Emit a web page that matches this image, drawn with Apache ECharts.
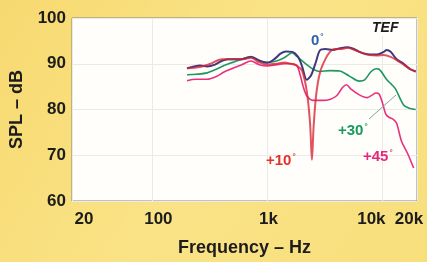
<!DOCTYPE html>
<html>
<head>
<meta charset="utf-8">
<script src="https://cdn.jsdelivr.net/npm/echarts@6/dist/echarts.min.js"></script>
<style>
html,body{margin:0;padding:0;background:#f8df7c;}
#c{width:427px;height:262px;}
</style>
</head>
<body>
<div id="c"></div>
<script>
// Frequency (Hz) and SPL (dB) per angle
var freq0 = [200,230,260,300,350,400,450,520,600,720,850,1000,1150,1300,1450,1650,1850,2000,2200,2400,2650,2860,3200,3700,4300,5000,5700,6300,7400,9000,10300,10900,11800,13300,15300,17500,19500];
var spl0  = [89.0,89.4,89.6,89.4,89.8,90.6,91.0,91.0,91.0,91.5,90.7,90.2,91.0,92.2,92.7,92.6,91.5,89.5,86.5,87.5,90.5,92.9,93.2,93.0,93.4,93.6,93.2,92.6,92.1,92.0,92.6,93.0,92.6,91.0,90.0,88.8,88.3];

var freq10 = [200,260,320,400,500,600,720,850,1000,1200,1400,1600,1800,2000,2200,2350,2440,2520,2650,2860,3160,3500,3850,4300,5000,5700,6300,7400,9000,10300,11800,13300,15300,17500,19500];
var spl10  = [89.0,89.3,90.0,91.0,91.0,91.0,91.3,90.3,89.8,90.0,90.3,90.0,89.6,88.5,84.0,77.0,69.0,76.0,83.0,88.0,90.8,92.6,93.2,93.2,93.5,93.0,92.6,92.0,91.8,91.9,91.5,90.8,89.8,88.8,88.3];

var freq30 = [200,240,300,360,420,500,600,720,850,1000,1200,1400,1640,1800,1930,2200,2500,2860,3500,4250,5170,6300,6960,7990,8820,9360,10940,12000,13000,15300,17500,19500];
var spl30  = [87.6,87.7,88.0,88.8,89.6,90.3,91.0,91.6,90.6,90.3,90.6,91.3,92.4,91.6,91.0,89.8,88.8,88.3,88.5,88.4,87.3,86.2,86.4,88.3,88.9,88.8,86.5,85.5,84.5,81.0,80.2,80.0];

var freq45 = [200,240,300,360,420,500,600,720,850,1000,1200,1400,1600,1800,1930,2050,2200,2490,3000,3490,4000,4500,4880,5300,6300,7400,8200,8820,9360,10000,10700,11400,12500,13300,14700,16500,18700];
var spl45  = [86.3,86.6,86.6,87.2,88.2,89.0,89.8,90.6,89.8,89.5,89.8,90.0,90.0,89.6,87.5,85.0,83.0,82.0,82.0,82.2,83.0,84.8,85.4,84.5,83.2,82.6,83.2,83.6,83.4,81.5,79.0,78.3,77.8,77.0,73.0,70.5,67.2];

var xTickLabels = {20:'20',100:'100',1000:'1k',10000:'10k',20000:'20k'};
var yTicks = [60,70,80,90,100];

function pairs(f, s){ return f.map(function(v,i){ return [v, s[i]]; }); }

var chart = echarts.init(document.getElementById('c'), null, {renderer:'canvas'});
var txt = '#1c1c1c';
var font = '"Liberation Sans", Arial, Helvetica, sans-serif';

function snap(v){
  var keys = [20,100,1000,10000,20000], best = keys[0];
  keys.forEach(function(k){ if (Math.abs(Math.log10(v)-Math.log10(k)) < Math.abs(Math.log10(v)-Math.log10(best))) best = k; });
  return best;
}
var shift = {20:'p20',100:'p100',1000:'p1k',10000:'p10k',20000:'p20k'};

function line(name, data, color, w, z){
  return {name:name, type:'line', data:data, smooth:0.3, showSymbol:false, symbol:'none',
    lineStyle:{color:color, width:w}, z:z, animation:false};
}

function lbl(x, y, t, c){
  return {type:'text', left:x, top:y, z:100,
    style:{text:'{a|' + t + '}{s|°}', rich:{a:{fill:c, font:'bold 15px '+font}, s:{fill:c, font:'bold 8px '+font, verticalAlign:'top', padding:[0,0,8,1]}}}};
}

chart.setOption({
  backgroundColor: {type:'linear', x:0, y:0, x2:1, y2:1, colorStops:[{offset:0,color:'#f7d970'},{offset:0.5,color:'#fae387'},{offset:1,color:'#f8df7c'}]},
  animation:false,
  grid:{left:68, right:10, top:18, bottom:56, show:true, backgroundColor:'#fffefb', borderColor:'#8a877c', borderWidth:1},
  xAxis:{
    type:'log', logBase:10, min:20, max:20000,
    name:'Frequency – Hz', nameLocation:'middle', nameGap:38,
    nameTextStyle:{color:txt, fontSize:18, fontWeight:'bold', fontFamily:font},
    axisLine:{show:false}, axisTick:{show:false},
    splitLine:{show:true, lineStyle:{color:'#ebebe6', width:1}},
    axisLabel:{
      margin:10, color:txt, fontSize:17, fontWeight:'bold', fontFamily:font,
      formatter:function(v){ var k = snap(v); return '{' + shift[k] + '|' + xTickLabels[k] + '}'; },
      rich:{
        p20:{padding:[0,0,0,24], fontSize:17, fontWeight:'bold', color:txt, fontFamily:font},
        p100:{padding:[0,0,0,12], fontSize:17, fontWeight:'bold', color:txt, fontFamily:font},
        p1k:{padding:[0,0,0,2], fontSize:17, fontWeight:'bold', color:txt, fontFamily:font},
        p10k:{padding:[0,22,0,0], fontSize:17, fontWeight:'bold', color:txt, fontFamily:font},
        p20k:{padding:[0,16,0,0], fontSize:17, fontWeight:'bold', color:txt, fontFamily:font}
      }
    }
  },
  yAxis:{
    type:'value', min:yTicks[0], max:yTicks[yTicks.length-1], interval:10,
    name:'SPL – dB', nameLocation:'middle', nameGap:46, nameRotate:90,
    nameTextStyle:{color:txt, fontSize:18, fontWeight:'bold', fontFamily:font},
    axisLine:{show:false}, axisTick:{show:false},
    splitLine:{show:true, lineStyle:{color:'#ebebe6', width:1}},
    axisLabel:{margin:6, color:txt, fontSize:17, fontWeight:'bold', fontFamily:font}
  },
  series:[
    line('+45°', pairs(freq45, spl45), '#e8307c', 1.6, 2),
    line('+30°', pairs(freq30, spl30), '#1f9860', 1.6, 3),
    line('0°', pairs(freq0, spl0), '#3f3780', 2, 4),
    line('+10°', pairs(freq10, spl10), 'rgba(214,36,52,0.78)', 2, 5)
  ],
  graphic:[
    {type:'rect', left:369, top:22, z:99, shape:{width:34, height:14}, style:{fill:'#fffefb'}},
    {type:'text', left:372, top:21, z:100, style:{text:'TEF', fill:txt, font:'italic bold 14px '+font}},
    lbl(311, 33, '0', '#2f5fa6'),
    lbl(266, 153, '+10', '#e0322c'),
    lbl(338, 123, '+30', '#179a5a'),
    lbl(363, 149, '+45', '#e6287c'),
    {type:'line', z:100, shape:{x1:369, y1:119, x2:396, y2:95}, style:{stroke:'#7fa8a0', lineWidth:1}}
  ]
});
</script>
</body>
</html>
